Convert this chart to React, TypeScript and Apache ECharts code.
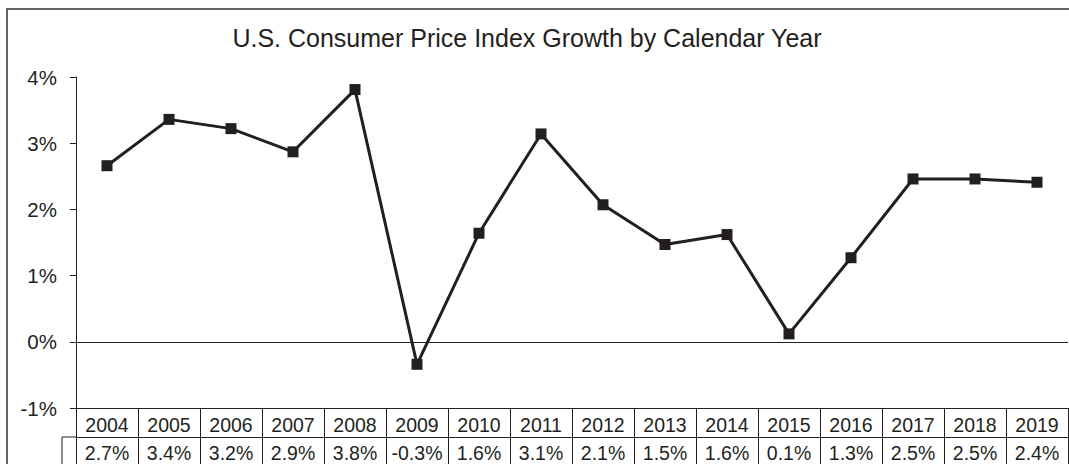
import React, { useEffect, useRef } from "react";
import * as echarts from "echarts";

const years = ["2004", "2005", "2006", "2007", "2008", "2009", "2010", "2011", "2012", "2013", "2014", "2015", "2016", "2017", "2018", "2019"];
const cpiGrowth = [2.66, 3.36, 3.22, 2.87, 3.81, -0.34, 1.64, 3.14, 2.07, 1.47, 1.62, 0.12, 1.27, 2.46, 2.46, 2.41];
const tableLabels = cpiGrowth.map((v) => v.toFixed(1) + "%");
const title = "U.S. Consumer Price Index Growth by Calendar Year";

const INK = "#231f20";
const FONT = "'Liberation Sans', Arial, sans-serif";

export default function App() {
  const ref = useRef<HTMLDivElement>(null);
  useEffect(() => {
    if (!ref.current) return;
    const chart = echarts.init(ref.current, null, { renderer: "svg" });
    chart.setOption({
      animation: false,
      backgroundColor: "#ffffff",
      textStyle: { fontFamily: FONT },
      title: {
        text: title,
        left: 522,
        top: 20,
        textAlign: "center",
        textStyle: { fontFamily: FONT, fontSize: 25, fontWeight: "normal", color: INK },
      },
      grid: { left: 76, right: 1, top: 77, bottom: 56, containLabel: false },
      xAxis: [
        {
          type: "category",
          data: years,
          position: "bottom",
          boundaryGap: true,
          axisLine: { onZero: false, lineStyle: { color: INK, width: 1 } },
          axisTick: { show: true, alignWithLabel: false, interval: 0, inside: false, length: 29, lineStyle: { color: INK, width: 1 } },
          axisLabel: { interval: 0, margin: 7, fontSize: 19.5, lineHeight: 19, color: INK, fontFamily: FONT },
          splitLine: { show: false },
        },
        {
          type: "category",
          data: tableLabels,
          position: "bottom",
          offset: 29,
          boundaryGap: true,
          axisLine: { onZero: false, lineStyle: { color: INK, width: 1 } },
          axisTick: { show: true, interval: 0, inside: false, length: 40, lineStyle: { color: INK, width: 1 } },
          axisLabel: { interval: 0, margin: 6, fontSize: 19.5, lineHeight: 19, color: INK, fontFamily: FONT },
          splitLine: { show: false },
        },
      ],
      yAxis: {
        type: "value",
        min: -1,
        max: 4,
        interval: 1,
        axisLine: { show: true, lineStyle: { color: INK, width: 1 } },
        axisTick: { show: true, inside: false, length: 6, lineStyle: { color: INK, width: 1 } },
        axisLabel: { margin: 19, fontSize: 20.5, color: INK, fontFamily: FONT, formatter: "{value}%" },
        splitLine: { show: false },
      },
      graphic: [
        {
          type: "rect",
          shape: { x: 7, y: 9, width: 1080, height: 480 },
          style: { fill: "none", stroke: "#333333", lineWidth: 1.5 },
          silent: true,
        },
        {
          type: "line",
          shape: { x1: 62, y1: 437, x2: 76, y2: 437 },
          style: { stroke: INK, lineWidth: 1 },
          silent: true,
        },
        {
          type: "line",
          shape: { x1: 62, y1: 437, x2: 62, y2: 470 },
          style: { stroke: INK, lineWidth: 1 },
          silent: true,
        },
      ],
      series: [
        {
          type: "line",
          xAxisIndex: 0,
          data: cpiGrowth,
          symbol: "rect",
          symbolSize: 11,
          lineStyle: { color: INK, width: 3 },
          itemStyle: { color: INK },
          markLine: {
            silent: true,
            symbol: "none",
            label: { show: false },
            lineStyle: { color: INK, width: 1, type: "solid" },
            data: [{ yAxis: 0 }],
          },
        },
      ],
    });
    return () => chart.dispose();
  }, []);
  return <div ref={ref} style={{ position: "absolute", left: 0, top: 0, width: 1069, height: 464 }} />;
}
